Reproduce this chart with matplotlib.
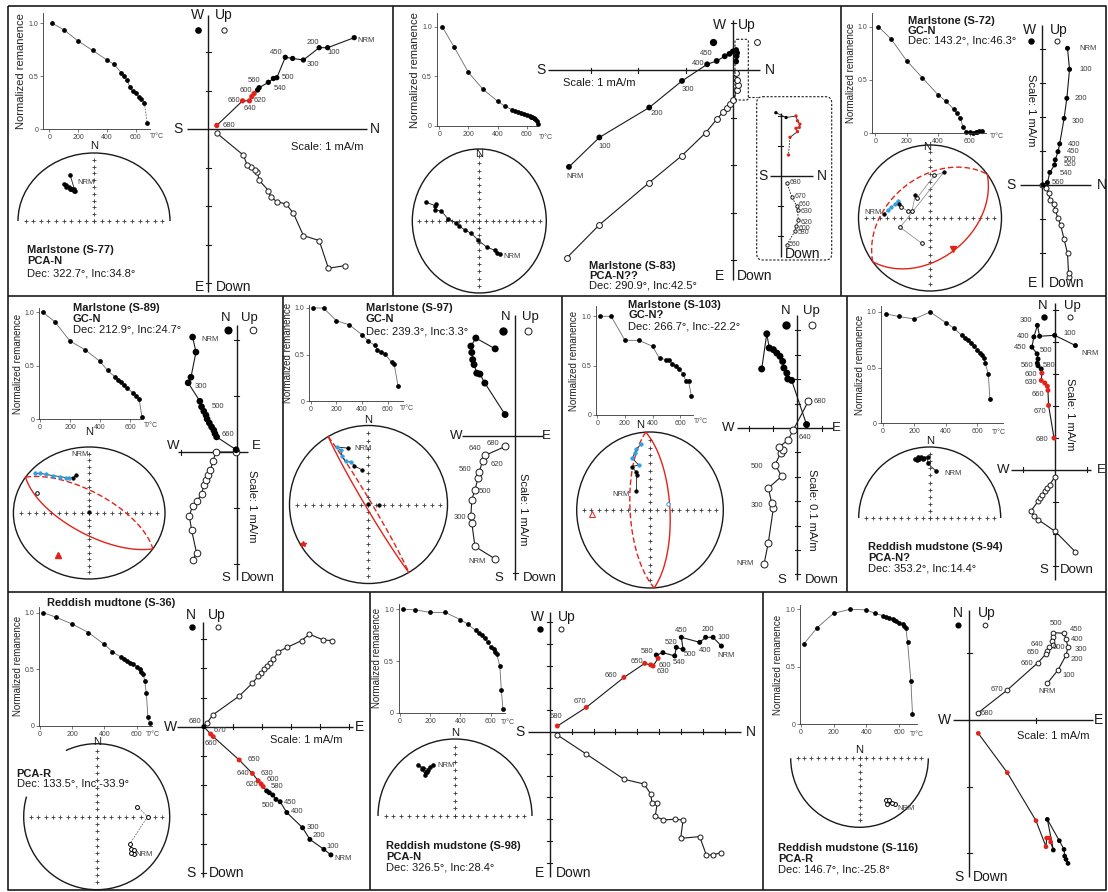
import numpy as np
import matplotlib
matplotlib.use("Agg")
import matplotlib.pyplot as plt
from matplotlib.patches import Ellipse, Arc, FancyBboxPatch

plt.rcParams['font.family'] = ['Liberation Sans', 'DejaVu Sans']
plt.rcParams['axes.unicode_minus'] = False

W, H = 1108, 892
RED = '#e2231a'
BLUE = '#2e9fe0'
INK = '#1a1a1a'
SOFT = '#3c3c3c'

# ======================= data =======================
# ---- S-77 ----
s77_name, s77_fit, s77_dir = 'Marlstone (S-77)', 'PCA-N', (322.7, 34.8)
s77_T = [20, 100, 200, 300, 400, 450, 500, 520, 540, 560, 580, 600, 620, 640, 660, 680]
s77_M = [1.0, 0.94, 0.833, 0.745, 0.654, 0.613, 0.535, 0.503, 0.462, 0.396, 0.362, 0.34, 0.308, 0.286, 0.25, 0.057]
s77_steps = ['NRM', '100', '200', '300', '400', '450', '500', '520', '540', '560', '580', '600', '620', '640', '660', '680']
s77_hx = [3.79, 3.10, 2.88, 2.47, 2.19, 2.00, 1.78, 1.69, 1.56, 1.32, 1.28, 1.19, 1.13, 1.07, 0.89, 0.22]
s77_hy = [2.38, 2.12, 2.12, 1.80, 1.84, 1.87, 1.34, 1.32, 1.22, 1.08, 1.02, 0.93, 0.85, 0.74, 0.74, 0.10]
s77_vx = [3.55, 3.12, 2.88, 2.47, 2.21, 2.02, 1.78, 1.62, 1.56, 1.32, 1.27, 1.21, 1.10, 1.01, 0.91, 0.22]
s77_vy = [-3.54, -3.61, -2.89, -2.76, -2.18, -1.94, -1.88, -1.75, -1.59, -1.32, -1.10, -1.06, -0.97, -0.93, -0.67, -0.10]
s77_dec = [331, 329, 327, 326, 324, 324, 325, 327, 329, 331, 335]
s77_inc = [48, 47, 43, 42, 38, 34, 36, 40, 44, 46, 27]

# ---- S-83 ----
s83_name, s83_fit, s83_dir = 'Marlstone (S-83)', 'PCA-N??', (290.9, 42.5)
s83_T = [20, 100, 200, 300, 400, 450, 500, 520, 540, 560, 580, 600, 620, 630, 640, 650, 660, 670, 680]
s83_M = [1.0, 0.80, 0.54, 0.37, 0.25, 0.20, 0.165, 0.15, 0.14, 0.13, 0.12, 0.11, 0.10, 0.095, 0.09, 0.08, 0.07, 0.055, 0.02]
s83_steps = ['NRM', '100', '200', '300', '400', '450', '500', '520', '540', '560', '580', '600', '620']
s83_hx = [-3.46, -2.82, -1.77, -1.08, -0.55, -0.35, -0.18, -0.08, -0.01, 0.06, 0.08, 0.07, 0.06]
s83_hy = [-2.04, -1.42, -0.79, -0.23, 0.12, 0.19, 0.29, 0.34, 0.39, 0.42, 0.36, 0.29, 0.18]
s83_vx = [-3.51, -2.82, -1.77, -1.09, -0.58, -0.35, -0.21, -0.13, -0.06, 0.0, 0.07, 0.105, 0.07, 0.06]
s83_vy = [-3.96, -3.26, -2.37, -1.81, -1.32, -1.04, -0.88, -0.79, -0.72, -0.63, -0.42, -0.32, -0.21, -0.07]
s83i_hx = [-0.16, 0.18, 0.51, 0.56, 0.64, 0.62, 0.51, 0.56, 0.31, 0.26]
s83i_hy = [2.10, 1.94, 1.99, 1.83, 1.72, 1.61, 1.58, 1.47, 1.28, 0.69]
s83i_vx = [0.2, 0.48, 0.51, 0.59, 0.56, 0.53, 0.37, 0.2]
s83i_vy = [-2.31, -1.84, -1.68, -1.48, -1.14, -1.01, -0.70, -0.23]
s83i_steps = ['560', '580', '600', '620', '630', '660', '670', '680']
s83_dec = [146, 149, 150, 163, 183, 214, 239, 256, 265, 274, 284, 283, 290, 288, 288]
s83_inc = [44, 47, 51, 59, 68, 73, 70, 65, 62, 51, 41, 32, 32, 31, 17]

# ---- S-72 ----
s72_name, s72_fit, s72_dir = 'Marlstone (S-72)', 'GC-N', (143.2, 46.3)
s72_T = [20, 100, 200, 300, 400, 450, 500, 520, 540, 560, 580, 600, 620, 640, 650, 660, 680]
s72_M = [1.0, 0.885, 0.68, 0.52, 0.36, 0.30, 0.225, 0.19, 0.14, 0.056, 0.01, 0.016, 0.006, 0.012, 0.016, 0.02, 0.022]
s72_steps = ['NRM', '100', '200', '300', '400', '450', '500', '520', '540', '560', '580']
s72_hx = [0.75, 0.81, 0.73, 0.65, 0.52, 0.47, 0.39, 0.37, 0.23, 0.16, 0.03]
s72_hy = [4.02, 3.40, 2.55, 1.96, 1.21, 0.98, 0.74, 0.59, 0.37, 0.07, 0.0]
s72_vx = [0.78, 0.78, 0.75, 0.65, 0.55, 0.47, 0.39, 0.35, 0.23, 0.20, 0.13, 0.0]
s72_vy = [-2.70, -2.58, -2.01, -1.60, -1.18, -0.98, -0.74, -0.56, -0.44, -0.23, -0.10, 0.0]
s72_dec = [275, 280, 285, 291, 297, 294, 290, 287, 292, 327, 327, 6, 17, 253, 198]
s72_inc = [36, 40, 43, 46, 48, 51, -54, -64, -68, 59, -63, -41, 35, -54, -60]

# ---- S-89 ----
s89_name, s89_fit, s89_dir = 'Marlstone (S-89)', 'GC-N', (212.9, 24.7)
s89_T = [20, 100, 200, 300, 400, 450, 500, 520, 540, 560, 580, 620, 640, 660, 680]
s89_M = [1.0, 0.91, 0.73, 0.65, 0.54, 0.455, 0.395, 0.37, 0.345, 0.32, 0.29, 0.245, 0.22, 0.19, 0.02]
s89_steps = ['NRM', '100', '200', '300', '400', '500', '520', '540', '560', '580', '600', '620', '640', '660', '680']
s89_hx = [-0.79, -0.73, -0.82, -0.87, -0.66, -0.63, -0.59, -0.55, -0.53, -0.49, -0.45, -0.41, -0.39, -0.36, -0.01]
s89_hy = [2.06, 1.79, 1.34, 1.24, 0.91, 0.81, 0.73, 0.66, 0.59, 0.52, 0.45, 0.39, 0.33, 0.27, 0.04]
s89_vx = [-0.79, -0.72, -0.81, -0.85, -0.79, -0.72, -0.63, -0.59, -0.55, -0.51, -0.47, -0.43, -0.37, -0.01]
s89_vy = [-1.94, -1.81, -1.39, -1.14, -0.97, -0.88, -0.76, -0.59, -0.50, -0.41, -0.32, -0.17, 0.0, 0.0]
s89_dec = [343, 338, 334, 330, 325, 320, 316, 313, 310, 294, 0]
s89_inc = [40, 42, 40, 38, 33, 27, 20, 13, 7, -26, 89]

# ---- S-97 ----
s97_name, s97_fit, s97_dir = 'Marlstone (S-97)', 'GC-N', (239.3, 3.3)
s97_T = [20, 100, 200, 300, 400, 450, 500, 520, 550, 580, 630, 650, 680]
s97_M = [1.0, 1.0, 0.864, 0.82, 0.714, 0.643, 0.60, 0.554, 0.529, 0.507, 0.418, 0.404, 0.168]
s97_steps = ['NRM', '100', '200', '300', '400', '500', '540', '560', '620', '640', '680']
s97_hx = [-0.44, -0.87, -0.98, -0.96, -0.94, -0.91, -0.85, -0.78, -0.67, -0.22]
s97_hy = [1.93, 2.17, 1.99, 1.85, 1.69, 1.58, 1.39, 1.37, 1.17, 0.47]
s97_vx = [-0.44, -0.89, -0.96, -0.98, -0.96, -0.89, -0.82, -0.80, -0.72, -0.67, -0.22]
s97_vy = [-2.74, -2.46, -1.94, -1.78, -1.42, -1.20, -0.94, -0.81, -0.57, -0.44, -0.24]
s97_dec = [340, 331, 333, 331, 332, 338, 340, 349, 0, 90]
s97_inc = [25, 18, 24, 31, 38, 42, 47, 53, 89, 79]

# ---- S-103 ----
s103_name, s103_fit, s103_dir = 'Marlstone (S-103)', 'GC-N?', (266.7, -22.2)
s103_T = [20, 100, 200, 300, 400, 450, 500, 520, 540, 570, 590, 620, 640, 660, 680]
s103_M = [1.0, 1.0, 0.756, 0.756, 0.695, 0.573, 0.56, 0.56, 0.52, 0.49, 0.464, 0.417, 0.34, 0.34, 0.193]
s103_steps = ['NRM', '100', '300', '400', '420', '450', '500', '520', '540', '560', '600', '640', '680']
s103_hx = [-1.46, -1.25, -1.15, -0.98, -0.84, -0.71, -0.60, -0.55, -0.43, -0.39, -0.23, 0.38]
s103_hy = [2.42, 3.86, 3.28, 3.21, 3.07, 2.94, 2.73, 2.46, 2.25, 2.01, 1.95, 0.14]
s103_vx = [-1.36, -1.19, -0.98, -1.05, -1.19, -0.64, -0.91, -0.68, -0.60, -0.74, -0.37, -0.16, 0.45]
s103_vy = [-5.56, -4.71, -3.28, -3.07, -2.46, -1.98, -1.50, -1.02, -0.89, -0.78, -0.48, -0.07, 1.09]
s103_dec = [323, 338, 339, 336, 345, 340, 344, 346, 352, 74]
s103_inc = [65, 50, 47, 39, 40, 30, 25, 21, 16, -69]

# ---- S-94 ----
s94_name, s94_fit, s94_dir = 'Reddish mudstone (S-94)', 'PCA-N?', (353.2, 14.4)
s94_T = [20, 100, 200, 300, 400, 450, 500, 520, 540, 560, 580, 600, 620, 630, 640, 650, 670, 680]
s94_M = [0.982, 0.96, 0.937, 1.0, 0.904, 0.856, 0.79, 0.766, 0.745, 0.72, 0.69, 0.66, 0.63, 0.61, 0.585, 0.54, 0.44, 0.216]
s94_steps = ['NRM', '100', '200', '300', '400', '450', '500', '520', '540', '560', '580', '600', '620', '630', '650', '660', '670', '680']
s94_hx = [0.63, -0.02, -0.49, -0.56, -0.67, -0.73, -0.57, -0.54, -0.56, -0.54, -0.44, -0.42, -0.44, -0.33, -0.25, -0.23, -0.21, -0.04]
s94_hy = [3.88, 4.20, 4.17, 4.51, 4.15, 3.83, 3.62, 3.46, 3.33, 3.25, 3.15, 3.02, 2.79, 2.71, 2.61, 2.48, 2.01, 0.99]
s94_vx = [0.63, 0.0, -0.54, -0.67, -0.77, -0.54, -0.48, -0.42, -0.33, -0.25, -0.18, -0.02]
s94_vy = [-2.57, -1.93, -1.56, -1.44, -1.30, -0.99, -0.88, -0.78, -0.68, -0.57, -0.47, -0.24]
s94_dec = [8, 358, 358, 350, 355, 348, 352, 346, 353, 349]
s94_inc = [34, 24, 15, 17, 16, 18, 15, 16, 18, 14]

# ---- S-36 ----
s36_name, s36_fit, s36_dir = 'Reddish mudtone (S-36)', 'PCA-R', (133.5, -33.9)
s36_T = [20, 100, 200, 300, 400, 450, 500, 520, 540, 560, 580, 600, 620, 630, 640, 650, 660, 670, 680]
s36_M = [1.0, 0.96, 0.90, 0.825, 0.72, 0.655, 0.61, 0.59, 0.575, 0.56, 0.545, 0.525, 0.505, 0.48, 0.46, 0.40, 0.29, 0.08, 0.03]
s36_steps = ['NRM', '100', '200', '300', '400', '450', '500', '520', '540', '580', '600', '620', '630', '640', '650', '660', '670', '680']
s36_hx = [4.37, 4.13, 3.65, 3.40, 2.86, 2.63, 2.49, 2.38, 2.26, 2.17, 2.05, 1.98, 1.88, 1.68, 1.23, 0.34, 0.25, 0.02]
s36_hy = [-4.39, -4.20, -3.86, -3.46, -2.94, -2.57, -2.49, -2.34, -2.26, -2.20, -2.05, -1.96, -1.85, -1.60, -1.14, -0.34, -0.25, 0.0]
s36_vx = [4.40, 4.11, 3.63, 3.37, 2.88, 2.57, 2.40, 2.29, 2.17, 2.08, 1.97, 1.89, 1.68, 1.23, 0.32, 0.14]
s36_vy = [2.95, 2.97, 3.17, 2.95, 2.72, 2.57, 2.31, 2.19, 2.08, 1.97, 1.85, 1.74, 1.49, 1.05, 0.40, 0.14]
s36_dec = [135, 133, 132, 136, 129, 90, 76]
s36_inc = [-29, -36, -32, -32, -41, -31, -42]

# ---- S-98 ----
s98_name, s98_fit, s98_dir = 'Reddish mudstone (S-98)', 'PCA-N', (326.5, 28.4)
s98_T = [20, 100, 200, 300, 400, 450, 500, 520, 540, 560, 580, 600, 620, 630, 640, 660, 670, 680]
s98_M = [1.0, 0.995, 0.97, 0.97, 0.90, 0.855, 0.795, 0.77, 0.75, 0.72, 0.68, 0.64, 0.615, 0.59, 0.565, 0.45, 0.22, 0.04]
s98_steps = ['NRM', '100', '200', '400', '450', '500', '520', '540', '560', '580', '600', '620', '630', '650', '660', '670', '680']
s98_hx = [7.84, 7.46, 7.12, 6.85, 6.01, 6.09, 5.78, 5.71, 5.17, 4.87, 4.95, 4.72, 4.61, 4.34, 3.39, 1.67, 0.35]
s98_hy = [3.91, 4.31, 4.31, 4.08, 4.31, 3.76, 3.85, 3.46, 3.61, 3.50, 3.35, 3.00, 3.05, 3.12, 2.48, 1.11, 0.26]
s98_vx = [7.81, 7.46, 7.15, 6.85, 5.98, 6.09, 5.71, 5.17, 4.82, 4.91, 4.67, 4.61, 4.31, 3.39, 1.67, 0.35]
s98_vy = [-5.52, -5.63, -5.63, -4.79, -4.87, -4.03, -4.00, -4.03, -3.85, -3.27, -3.24, -2.84, -2.39, -2.17, -1.02, -0.15]
s98_dec = [337, 333, 327, 326, 324, 325, 324, 330, 328]
s98_inc = [29, 29, 32, 26, 35, 27, 20, 31, 33]

# ---- S-116 ----
s116_name, s116_fit, s116_dir = 'Reddish mudstone (S-116)', 'PCA-R', (146.7, -25.8)
s116_T = [20, 100, 200, 300, 400, 450, 500, 520, 540, 560, 570, 580, 600, 620, 630, 640, 650, 670, 680]
s116_M = [0.70, 0.84, 0.965, 1.0, 0.995, 0.965, 0.945, 0.935, 0.925, 0.915, 0.905, 0.895, 0.885, 0.87, 0.855, 0.835, 0.715, 0.38, 0.09]
s116_steps = ['NRM', '100', '200', '300', '400', '450', '500', '520', '540', '600', '620', '640', '650', '660', '670', '680']
s116_hx = [1.48, 1.45, 1.43, 1.42, 1.35, 1.17, 1.26, 1.22, 1.20, 1.16, 1.15, 1.00, 0.57, 0.135]
s116_hy = [-2.15, -2.09, -2.04, -1.94, -1.81, -1.49, -1.95, -1.83, -1.77, -1.77, -1.90, -1.51, -0.79, -0.20]
s116_vx = [1.17, 1.33, 1.45, 1.48, 1.45, 1.42, 1.26, 1.25, 1.24, 1.26, 1.20, 1.17, 1.15, 1.03, 0.57, 0.135]
s116_vy = [0.55, 0.75, 0.97, 1.09, 1.21, 1.30, 1.31, 1.25, 1.19, 1.12, 1.10, 1.04, 0.99, 0.86, 0.45, 0.11]
s116_dec = [142, 144.5, 146, 148.6, 147.3, 145]
s116_inc = [-17, -21, -26, -24, -29, -27]

# ======================= figure =======================
fig = plt.figure(figsize=(W / 100, H / 100), dpi=100)
ov = fig.add_axes([0, 0, 1, 1])
ov.set_xlim(0, W)
ov.set_ylim(H, 0)
ov.axis('off')
ov.set_zorder(50)
ov.patch.set_alpha(0)

TITLE_FS = 8.0


def px_axes(l, t, r, b):
    ax = fig.add_axes([l / W, 1 - b / H, (r - l) / W, (b - t) / H])
    ax.patch.set_alpha(0)
    return ax


def txt(x, y, s, fs=8.5, ha='left', va='center', color=INK, **kw):
    ov.text(x, y, s, fontsize=fs, ha=ha, va=va, color=color, **kw)


def title(x, ys, name, fit, d, fs=TITLE_FS):
    txt(x, ys[0], name, fs=fs, fontweight='bold')
    txt(x, ys[1], fit, fs=fs, fontweight='bold')
    txt(x, ys[2], f'Dec: {d[0]}°, Inc:{d[1]}°', fs=fs)


def compass(items, fs=10):
    for s, x, y, ha in items:
        txt(x, y, s, fs=fs, ha=ha)


def legend_marks(xf, xo, y, ms):
    ov.plot(xf, y, 'o', ms=ms, color='black')
    ov.plot(xo, y, 'o', ms=ms, mfc='white', mec=INK, mew=0.7)


def demag(box, x0, kx, y1, temps, vals, tc, ylab_fs=7.0, dash_last=False):
    l, t, r, b = box
    ky = b - y1
    ax = px_axes(l, t, r, b)
    ax.set_xlim((l - x0) / kx, (r - x0) / kx)
    ax.set_ylim(0, (b - t) / ky)
    T = np.asarray(temps, float)
    M = np.asarray(vals, float)
    if dash_last:
        ax.plot(T[:-1], M[:-1], color='#6a6a6a', lw=0.6)
        ax.plot(T[-2:], M[-2:], color='#6a6a6a', lw=0.6, ls=(0, (2, 1.5)))
    else:
        ax.plot(T, M, color='#6a6a6a', lw=0.6)
    ax.plot(T, M, 'o', ms=2.4, color='black', clip_on=False)
    for s in ('top', 'right'):
        ax.spines[s].set_visible(False)
    for s in ('left', 'bottom'):
        ax.spines[s].set_linewidth(0.6)
        ax.spines[s].set_color('#333333')
    ax.set_xticks([0, 200, 400, 600])
    ax.set_yticks([0, 0.5, 1.0])
    ax.set_yticklabels(['0', '0.5', '1.0'])
    ax.tick_params(labelsize=5, length=2, width=0.5, pad=1.5, colors='#444444')
    ax.set_ylabel('Normalized remanence', fontsize=ylab_fs, labelpad=1.5, color='#222222')
    txt(tc[0], tc[1], 'T/°C', fs=5, ha='center', color='#444444')
    return ax


def zijder(box, origin, unit, hspan, vspan, hx, hy, vx, vy, ms=4.0, red=None,
           hsteps=None, hlab=(), vsteps=None, vlab=(), hticks=True, vticks=True,
           tick=2.5, lw=0.8, lab_fs=5.5, dash_v=False, dash_h_last=False):
    l, t, r, b = box
    ox, oy = origin
    ax = px_axes(l, t, r, b)
    ax.set_xlim((l - ox) / unit, (r - ox) / unit)
    ax.set_ylim((oy - b) / unit, (oy - t) / unit)
    ax.axis('off')
    h0, h1 = (hspan[0] - ox) / unit, (hspan[1] - ox) / unit
    v0, v1 = (oy - vspan[1]) / unit, (oy - vspan[0]) / unit
    ax.plot([h0, h1], [0, 0], color=INK, lw=1.0, solid_capstyle='butt', clip_on=False)
    ax.plot([0, 0], [v0, v1], color=INK, lw=1.0, solid_capstyle='butt', clip_on=False)
    tk = tick / unit
    m = 2.0 / unit

    def tick_list(spec, a0, a1):
        if spec is True:
            return [k for k in range(int(np.ceil(a0 + m)), int(np.floor(a1 - m)) + 1) if k != 0]
        if spec is False:
            return []
        return list(spec)

    for k in tick_list(hticks, h0, h1):
        ax.plot([k, k], [-tk, tk], color=INK, lw=0.8, clip_on=False)
    for k in tick_list(vticks, v0, v1):
        ax.plot([-tk, tk], [k, k], color=INK, lw=0.8, clip_on=False)

    hx, hy, vx, vy = (np.asarray(a, float) for a in (hx, hy, vx, vy))
    ax.plot(vx, vy, color=INK, lw=lw, ls=(0, (2, 1.5)) if dash_v else '-',
            clip_on=False, zorder=2)
    ax.plot(vx, vy, 'o', ms=ms, mfc='white', mec=INK, mew=0.7, clip_on=False, zorder=3)
    if dash_h_last:
        ax.plot(hx[:-1], hy[:-1], color=INK, lw=lw, clip_on=False, zorder=4)
        ax.plot(hx[-2:], hy[-2:], color=INK, lw=lw, ls=(0, (2, 1.5)), clip_on=False, zorder=4)
    else:
        ax.plot(hx, hy, color=INK, lw=lw, clip_on=False, zorder=4)
    cols = ['black'] * len(hx)
    if red:
        for i in range(*red):
            cols[i] = RED
    ax.scatter(hx, hy, s=ms ** 2, c=cols, linewidths=0, clip_on=False, zorder=5)
    for spec in hlab:
        i, dx, dy = spec[:3]
        ha = spec[3] if len(spec) > 3 else 'center'
        ax.text(hx[i] + dx / unit, hy[i] - dy / unit, hsteps[i], fontsize=lab_fs,
                ha=ha, va='center', color=SOFT, zorder=6)
    for spec in vlab:
        i, dx, dy = spec[:3]
        ha = spec[3] if len(spec) > 3 else 'center'
        ax.text(vx[i] + dx / unit, vy[i] - dy / unit, vsteps[i], fontsize=lab_fs,
                ha=ha, va='center', color=SOFT, zorder=6)
    return ax


def eqarea(dec, inc):
    d = np.radians(np.asarray(dec, float))
    i = np.radians(np.abs(np.asarray(inc, float)))
    r = np.sqrt(2) * np.sin((np.pi / 2 - i) / 2)
    return r * np.sin(d), r * np.cos(d)


def great_circle(dec, inc, n=1441):
    d, i = np.radians(dec), np.radians(inc)
    p = np.array([np.cos(i) * np.cos(d), np.cos(i) * np.sin(d), np.sin(i)])
    u = np.array([-np.sin(d), np.cos(d), 0.0])
    v = np.cross(p, u)
    t = np.linspace(0, 2 * np.pi, n)
    pts = np.outer(np.cos(t), u) + np.outer(np.sin(t), v)
    gd = np.degrees(np.arctan2(pts[:, 1], pts[:, 0]))
    gi = np.degrees(np.arcsin(np.clip(pts[:, 2], -1, 1)))
    return gd, gi


def stereo(center, rx, ry, kind, decs, incs, n_y, ms=2.8, blue=None, chain=None,
           line_ls='-', line_c=INK, lw=0.6, pole=None, pole_marker='^', nrm=None, gap=None,
           n_x=None):
    cx, cy = center
    pad = 6
    ax = px_axes(cx - rx - pad, cy - ry - pad, cx + rx + pad, cy + ry + pad)
    ax.set_xlim(-1 - pad / rx, 1 + pad / rx)
    ax.set_ylim(-1 - pad / ry, 1 + pad / ry)
    ax.axis('off')
    if kind == 'full':
        if gap:
            ax.add_patch(Arc((0, 0), 2, 2, theta1=gap[1], theta2=gap[0] + 360, lw=1.0, color=INK))
        else:
            ax.add_patch(Ellipse((0, 0), 2, 2, fill=False, lw=1.0, ec=INK))
    elif kind == 'north':
        ax.add_patch(Arc((0, 0), 2, 2, theta1=0, theta2=180, lw=1.0, color=INK))
    else:
        ax.add_patch(Arc((0, 0), 2, 2, theta1=180, theta2=360, lw=1.0, color=INK))
    ks = np.arange(-9, 10) / 10.0
    if kind == 'full':
        vk = ks
    elif kind == 'north':
        vk = ks[ks >= 0]
    else:
        vk = ks[ks <= 0]
    ax.plot(np.zeros_like(vk), vk, '+', ms=3.2, mew=0.6, color=SOFT, clip_on=False)
    ax.plot(ks, np.zeros_like(ks), '+', ms=3.2, mew=0.6, color=SOFT, clip_on=False)
    txt(cx if n_x is None else n_x, n_y, 'N', fs=8, ha='center')

    if pole is not None:
        gd, gi = great_circle(*pole)
        gx, gy = eqarea(gd, gi)
        low = gi >= 0
        ax.plot(np.where(low, gx, np.nan), np.where(low, gy, np.nan), color=RED, lw=1.0,
                ls=(0, (4, 2)), clip_on=False)
        ax.plot(np.where(~low, gx, np.nan), np.where(~low, gy, np.nan), color=RED, lw=1.0,
                clip_on=False)
        px_, py_ = eqarea(pole[0], pole[1])
        if pole[1] >= 0:
            ax.plot(px_, py_, pole_marker, ms=4, color=RED, clip_on=False, zorder=6)
        else:
            ax.plot(px_, py_, pole_marker, ms=4, mfc='white', mec=RED, mew=0.7,
                    clip_on=False, zorder=6)

    x, y = eqarea(decs, incs)
    inc = np.asarray(incs, float)
    n = len(x) if chain is None else chain
    ax.plot(x[:n], y[:n], color=line_c, lw=lw, ls=line_ls, zorder=2, clip_on=False)
    cols = np.array(['black'] * len(x), dtype=object)
    if blue:
        cols[blue[0]:blue[1]] = BLUE
    for xi, yi, ii, c in zip(x, y, inc, cols):
        if ii >= 0:
            ax.plot(xi, yi, 'o', ms=ms, mfc=c, mec=c, mew=0.4, clip_on=False, zorder=4)
        else:
            ax.plot(xi, yi, 'o', ms=ms, mfc='white', mec=c, mew=0.7, clip_on=False, zorder=4)
    if nrm is not None:
        i, dx, dy = nrm[:3]
        ha = nrm[3] if len(nrm) > 3 else 'left'
        ax.text(x[i] + dx / rx, y[i] - dy / ry, 'NRM', fontsize=5.5, ha=ha, va='center',
                color=SOFT, zorder=6)
    return ax


# ======================= panel frames =======================
fr = dict(color=INK, lw=1.2, solid_capstyle='butt')
ov.plot([8, 1106, 1106, 8, 8], [6, 6, 890, 890, 6], **fr)
ov.plot([8, 1106], [295.5, 295.5], **fr)
ov.plot([8, 1106], [591.5, 591.5], **fr)
for xv in (392.5, 840.5):
    ov.plot([xv, xv], [6, 295.5], **fr)
for xv in (283, 561.5, 847):
    ov.plot([xv, xv], [295.5, 591.5], **fr)
for xv in (369.5, 762.5):
    ov.plot([xv, xv], [591.5, 890], **fr)

# ======================= S-77 =======================
demag((43, 13, 150, 129.3), 49.3, 0.144, 23.3, s77_T, s77_M, (156.7, 136.7), ylab_fs=8, dash_last=True)
stereo((94, 221), 76, 68, 'north', s77_dec, s77_inc, n_y=146, nrm=(0, 2, -8))
zijder((8, 6, 390, 293), (208.3, 129.3), 38.5, (187, 367), (15, 292),
       s77_hx, s77_hy, s77_vx, s77_vy, ms=3.8, red=(11, 16), hsteps=s77_steps, hticks=False,
       hlab=[(0, 11.7, 3.3), (1, 5.7, 4.7), (2, -6, -5.3), (3, 10, 4.3), (5, -8.7, -5),
             (6, 10.7, 0), (8, 11.7, 6), (9, -5, -7.7), (11, -8, -2.7), (12, 8.3, 4),
             (13, 0.7, 7.3), (14, -9, 0), (15, 11.7, 0)])
compass([('S', 178, 129.3, 'center'), ('N', 375, 129.3, 'center'), ('W', 204.3, 15, 'right'),
         ('Up', 215, 15, 'left'), ('E', 204, 286.7, 'right'), ('Down', 216, 286.7, 'left')])
legend_marks(198, 224, 30, 3.8)
txt(327, 147, 'Scale: 1 mA/m', fs=8, ha='center')
title(27, (250, 261.5, 273.3), s77_name, s77_fit, s77_dir)

# ======================= S-83 =======================
demag((436.7, 13.3, 538, 126), 439.3, 0.1456, 26.7, s83_T, s83_M, (546, 137.3), ylab_fs=8)
stereo((479.3, 221), 67, 72, 'full', s83_dec, s83_inc, n_y=154, nrm=(0, 3.3, 3))
zijder((392, 6, 840, 293), (733.3, 70), 47.5, (548, 760), (20, 280),
       s83_hx, s83_hy, s83_vx, s83_vy, ms=4.2, hsteps=s83_steps,
       hlab=[(0, 6, 10), (1, 5.7, 9.3), (2, 7.3, 6), (3, 6.3, 8.3), (4, -9, -1), (5, -10, -7.7)])
compass([('S', 541, 70, 'center'), ('N', 770, 70, 'center'), ('W', 726, 25, 'right'),
         ('Up', 738.3, 25, 'left'), ('E', 724.3, 276, 'right'), ('Down', 736.7, 276, 'left')])
legend_marks(712.7, 756.7, 41.7, 4.2)
txt(563, 83, 'Scale: 1 mA/m', fs=8)
dash_box = dict(fill=False, ls=(0, (2, 1.5)), lw=0.8, ec=INK)
ov.add_patch(FancyBboxPatch((735, 39.3), 13.3, 60.7, boxstyle='round,pad=0,rounding_size=2', **dash_box))
ov.plot([748.3, 756.7], [97, 97], color=INK, lw=0.8, ls=(0, (2, 1.5)))
ov.add_patch(FancyBboxPatch((756.7, 96.7), 75, 163.3, boxstyle='round,pad=0,rounding_size=6', **dash_box))
zijder((757, 97, 831, 260), (780.7, 175.7), 30, (770, 813), (113, 257),
       s83i_hx, s83i_hy, s83i_vx, s83i_vy, ms=2.4, red=(2, 10), hticks=False, lw=0.6,
       lab_fs=5, dash_v=True, dash_h_last=True, vsteps=s83i_steps,
       vlab=[(0, 2.5, 0, 'left'), (1, 2.5, 2, 'left'), (2, 2.5, 2, 'left'), (3, 2.5, 2, 'left'),
             (4, 3, 2, 'left'), (5, 2.5, -1, 'left'), (6, 2.5, 0, 'left'), (7, 2.5, 0, 'left')])
compass([('S', 763, 175.7, 'center'), ('N', 821.7, 175.7, 'center'), ('Down', 803, 254, 'center')])
title(589.3, (266, 276, 286), s83_name, s83_fit, s83_dir)

# ======================= S-72 =======================
demag((872.3, 13.3, 986.3, 133.3), 875.3, 0.1572, 26.7, s72_T, s72_M, (997.3, 136.7))
stereo((930, 218), 71.5, 73, 'full', s72_dec, s72_inc, n_y=146.7, n_x=927, ms=2.6, blue=(1, 5),
       line_c='#808080', lw=0.5, pole=s72_dir, pole_marker='v', nrm=(0, -3, -1, 'right'))
zijder((841, 6, 1106, 293), (1042, 185), 34, (1019.7, 1091.3), (25, 286.7),
       s72_hx, s72_hy, s72_vx, s72_vy, ms=3.6, hsteps=s72_steps, hticks=False,
       hlab=[(0, 12.3, 0, 'left'), (1, 10, 0, 'left'), (2, 7.3, 0, 'left'), (3, 7.3, 3, 'left'),
             (4, 8.3, 1, 'left'), (5, 9.3, 0, 'left'), (6, 8.7, 0, 'left'), (7, 9.3, 0, 'left'),
             (8, 10, 1, 'left'), (9, 4, 0, 'left')])
compass([('S', 1011.3, 185, 'center'), ('N', 1102, 185, 'center'), ('W', 1036.3, 30, 'right'),
         ('Up', 1049.7, 30, 'left'), ('E', 1037.3, 283.3, 'right'), ('Down', 1048.7, 283.3, 'left')])
legend_marks(1030.7, 1057.3, 40.7, 3.6)
txt(1031.3, 110, 'Scale: 1 mA/m', fs=8, ha='center', rotation=-90)
title(908, (20.5, 30.5, 40.5), s72_name, s72_fit, s72_dir)

# ======================= S-89 =======================
demag((39.3, 308, 143.3, 419), 40, 0.15, 312.3, s89_T, s89_M, (150.7, 425.3))
stereo((89.2, 513), 75.8, 66, 'full', s89_dec, s89_inc, n_y=432.3, ms=2.6, blue=(2, 9), chain=9,
       pole=s89_dir, nrm=(0, -5, -21))
zijder((0, 296, 283, 591), (236.7, 452), 55.8, (178, 248.3), (324.7, 579.7),
       s89_hx, s89_hy, s89_vx, s89_vy, ms=4.8, hsteps=s89_steps,
       hlab=[(0, 9, 2.3, 'left'), (3, 6.7, 3.3, 'left'), (5, 10, 0, 'left'), (13, 5, -2.3, 'left')])
compass([('W', 173.3, 446.3, 'center'), ('E', 256.7, 446.3, 'center'), ('N', 230, 318, 'right'),
         ('Up', 240.7, 318, 'left'), ('S', 230, 578, 'right'), ('Down', 240.7, 578, 'left')], fs=9.5)
legend_marks(228.3, 253.3, 329.7, 4.8)
txt(251.7, 506.7, 'Scale: 1 mA/m', fs=8, ha='center', rotation=-90)
title(72.7, (308, 319, 330), s89_name, s89_fit, s89_dir)

# ======================= S-97 =======================
demag((309.3, 304.7, 403.3, 401.3), 310.7, 0.1283, 308, s97_T, s97_M, (406.7, 408))
stereo((368.5, 504.5), 79, 79, 'full', s97_dec, s97_inc, n_y=419.7, ms=2.6, blue=(1, 6), chain=8,
       pole=s97_dir, pole_marker='*', nrm=(0, 6, 0))
zijder((283, 296, 561, 591), (515, 435.7), 45, (461.7, 543.3), (314.7, 579.7),
       s97_hx, s97_hy, s97_vx, s97_vy, ms=5, hticks=False, vticks=[-3.05], vsteps=s97_steps,
       vlab=[(0, -18.3, 2.3), (3, -10.7, 1.3), (5, 10, 1.7), (7, -14.3, -2.7), (8, 14, 3.3),
             (9, -10, -6.7), (10, -11.7, -3.3)])
compass([('W', 456, 435.7, 'center'), ('E', 546.7, 435.7, 'center'), ('N', 510, 317, 'right'),
         ('Up', 521.7, 317, 'left'), ('S', 503.3, 578, 'right'), ('Down', 522.7, 578, 'left')], fs=9.5)
legend_marks(502.7, 527.7, 331.3, 5)
txt(523.3, 509.7, 'Scale: 1 mA/m', fs=8, ha='center', rotation=-90)
title(366, (308, 319, 331), s97_name, s97_fit, s97_dir)

# ======================= S-103 =======================
demag((596, 306.3, 693.3, 414.7), 597.3, 0.1383, 316.3, s103_T, s103_M, (700.7, 421.3))
stereo((650, 510), 73.3, 78, 'full', s103_dec, s103_inc, n_y=424.5, n_x=640.5, ms=2.6, blue=(4, 10),
       chain=9, pole=s103_dir, nrm=(0, -6.7, 3.3, 'right'))
zijder((561.5, 296, 847, 591), (797.3, 428), 24.4, (736.7, 833.3), (314.7, 579.7),
       s103_hx, s103_hy, s103_vx, s103_vy, ms=5, vsteps=s103_steps,
       vlab=[(0, -19, 0), (2, -16.7, -2.3), (6, -18.3, 1.7), (11, 11.7, 8), (12, 11.7, 0)])
compass([('W', 728.3, 428, 'center'), ('E', 836.7, 428, 'center'), ('N', 790, 311.3, 'right'),
         ('Up', 802.7, 311.3, 'left'), ('S', 786.7, 580.3, 'right'), ('Down', 805, 580.3, 'left')], fs=9.5)
legend_marks(786, 812.3, 325.3, 5)
txt(811.7, 509.7, 'Scale: 0.1 mA/m', fs=8, ha='center', rotation=-90)
title(628.3, (304.5, 315.5, 326.5), s103_name, s103_fit, s103_dir)

# ======================= S-94 =======================
demag((881.3, 306.3, 1003, 423), 883, 0.1572, 312, s94_T, s94_M, (998.7, 432.3))
stereo((929.7, 518), 71, 71, 'north', s94_dec, s94_inc, n_y=441.3, nrm=(0, 8.4, 1.7))
zijder((847, 296, 1106, 591), (1055.3, 469.7), 32, (1011.3, 1091.3), (303, 579.7),
       s94_hx, s94_hy, s94_vx, s94_vy, ms=3.6, red=(11, 18), hsteps=s94_steps,
       hlab=[(3, -11, -5), (4, -11, -0.7), (5, -11.3, 0), (1, 15, -1.7), (0, 14.3, 8.3),
             (6, 9.3, -3.7), (10, 8.3, -3.3), (9, -10.7, 0), (11, -10.7, 1), (13, -14, 0),
             (15, -10, 3.7), (16, -9, 6), (17, -12, 1.7)])
compass([('W', 1003, 469.7, 'center'), ('E', 1101.3, 469.7, 'center'), ('N', 1047.3, 305.7, 'right'),
         ('Up', 1064, 305.7, 'left'), ('S', 1048.7, 569.7, 'right'), ('Down', 1059.7, 569.7, 'left')], fs=9.5)
legend_marks(1044, 1069.7, 317, 3.6)
txt(1069.7, 414.7, 'Scale: 1 mA/m', fs=8, ha='center', rotation=-90)
title(868, (547.5, 558, 568.5), s94_name, s94_fit, s94_dir)

# ======================= S-36 =======================
demag((39.3, 606.7, 151.7, 726), 40, 0.1611, 612.7, s36_T, s36_M, (153.3, 735))
stereo((96.7, 816.7), 73, 73, 'full', s36_dec, s36_inc, n_y=741.7, line_ls=(0, (2, 1.5)),
       line_c='#666666', nrm=(0, 2, 1), gap=(115, 164))
zijder((8, 591.5, 369.5, 890), (203.3, 726.7), 29.2, (176.7, 353.3), (621.7, 876.7),
       s36_hx, s36_hy, s36_vx, s36_vy, ms=3.6, red=(10, 17), hsteps=s36_steps,
       hlab=[(0, 12.3, 3.3), (1, 9.3, -2.7), (2, 9, -4), (3, 10.7, 0), (4, 10.7, -1), (5, 10, 1),
             (6, -7.7, 5.7), (9, 10, -4.3), (10, 9.3, -6.7), (12, 8.3, -7.3), (11, -9.3, 1),
             (13, -9.7, 0), (14, 14.7, -0.7), (15, -2.3, 7.3), (16, 9, -4), (17, -9, -5)])
compass([('W', 170, 726.7, 'center'), ('E', 359.3, 726.7, 'center'), ('N', 196, 615, 'right'),
         ('Up', 208.3, 615, 'left'), ('S', 196, 873.3, 'right'), ('Down', 209.3, 873.3, 'left')])
legend_marks(191.7, 218.3, 626.7, 3.6)
txt(306, 740, 'Scale: 1 mA/m', fs=8, ha='center')
txt(46.7, 603.3, s36_name, fs=TITLE_FS, fontweight='bold')
txt(16.7, 774, s36_fit, fs=TITLE_FS, fontweight='bold')
txt(16.7, 784, f'Dec: {s36_dir[0]}°, Inc:{s36_dir[1]}°', fs=TITLE_FS)

# ======================= S-98 =======================
demag((398.7, 604, 504.7, 712.7), 399.7, 0.1517, 609.3, s98_T, s98_M, (508, 722.7))
stereo((455, 816), 77, 77, 'north', s98_dec, s98_inc, n_y=733.3, nrm=(0, 4, 0))
zijder((369.5, 591.5, 762.5, 890), (549.7, 731.7), 21.9, (528, 741.3), (611.7, 876.7),
       s98_hx, s98_hy, s98_vx, s98_vy, ms=3.6, red=(10, 17), hsteps=s98_steps,
       hlab=[(0, 5, 9), (1, 11, 0), (2, 2.3, -8), (3, 5, 7.7), (4, 0, -6.7), (5, 6.7, 4.7),
             (6, -5.7, -4.7), (7, 4, 6.7), (9, -9, -3.3), (10, 6.7, 6.7), (12, 12.3, 6.7),
             (13, -8.3, -1.7), (14, -12.7, -2.3), (15, -6.7, -5.7), (16, -1, -9.3)])
compass([('S', 519.7, 731.7, 'center'), ('N', 751.3, 731.7, 'center'), ('W', 544, 617.3, 'right'),
         ('Up', 558, 617.3, 'left'), ('E', 544, 872.7, 'right'), ('Down', 556.3, 872.7, 'left')])
legend_marks(539.7, 561.3, 629.3, 3.6)
title(386.3, (846, 856.7, 867), s98_name, s98_fit, s98_dir)

# ======================= S-116 =======================
demag((800, 605, 916.7, 724.3), 800.7, 0.1644, 609.3, s116_T, s116_M, (917.3, 735))
stereo((859.5, 758.3), 68.8, 69, 'south', s116_dec, s116_inc, n_y=750, nrm=(0, 2, 4))
zijder((762.5, 591.5, 1106, 890), (969.3, 720), 66.7, (953.3, 1093.3), (610, 876.7),
       s116_hx, s116_hy, s116_vx, s116_vy, ms=3.4, red=(7, 14), vsteps=s116_steps,
       vlab=[(0, -0.7, 8.3), (1, 10.7, 6), (2, 10.7, 4.3), (3, 13.3, 2), (4, 10.7, 0),
             (5, 11.7, -3.3), (6, 2.7, -9.3), (9, 6, 2.3), (11, -10.7, -5.7), (12, -12.7, -1.3),
             (13, -11, 1.3), (14, -10.7, -0.7), (15, 8.3, 1.3)])
compass([('W', 945, 720, 'center'), ('E', 1098.3, 720, 'center'), ('N', 962.7, 612.7, 'right'),
         ('Up', 978.3, 612.7, 'left'), ('S', 964, 876.7, 'right'), ('Down', 972.7, 876.7, 'left')])
legend_marks(957.7, 985, 625, 3.4)
txt(1053.3, 736, 'Scale: 1 mA/m', fs=8, ha='center')
title(778.3, (848, 858.5, 869), s116_name, s116_fit, s116_dir)

fig.savefig('out.png', dpi=100, facecolor='white')
